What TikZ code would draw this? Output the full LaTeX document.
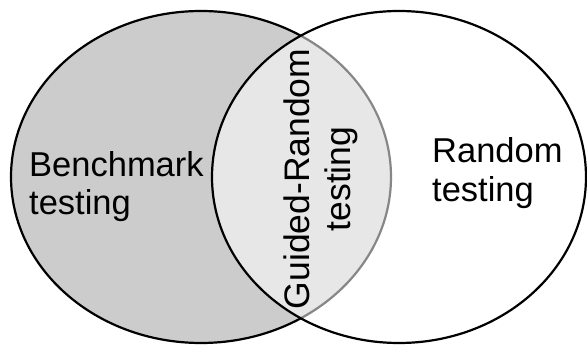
\documentclass[tikz,border=0pt]{standalone}
\usepackage{fontspec}
\setmainfont{Liberation Sans}
\begin{document}
\begin{tikzpicture}[x=1pt,y=-1pt,
  setline/.style={line width=2.2pt,draw=black},
  lbl/.style={inner sep=0pt,font=\fontsize{34.5}{38}\selectfont},
  vlbl/.style={inner sep=0pt,rotate=90,anchor=base,font=\fontsize{35.5}{40}\selectfont}]
\definecolor{benchgray}{RGB}{204,204,204}
\useasboundingbox (0,0) rectangle (587,347);
% benchmark set
\draw[setline,fill=benchgray] (201,177) ellipse [x radius=190,y radius=166];
% random set, translucent so the overlap stays lighter grey
\draw[setline,fill=white,fill opacity=0.53] (399,177) ellipse [x radius=187,y radius=166];
% labels
\node[lbl,anchor=base west] (bench) at (29,177) {Benchmark};
\node[lbl,anchor=base west] (benchtest) at (29,215) {testing};
\node[lbl,anchor=base west] (rand) at (432,163) {Random};
\node[lbl,anchor=base west] (randtest) at (432,202) {testing};
\node[vlbl] (guided) at (309,179) {Guided-Random};
\node[vlbl] (guidedtest) at (350,179) {testing};
\end{tikzpicture}
\end{document}
